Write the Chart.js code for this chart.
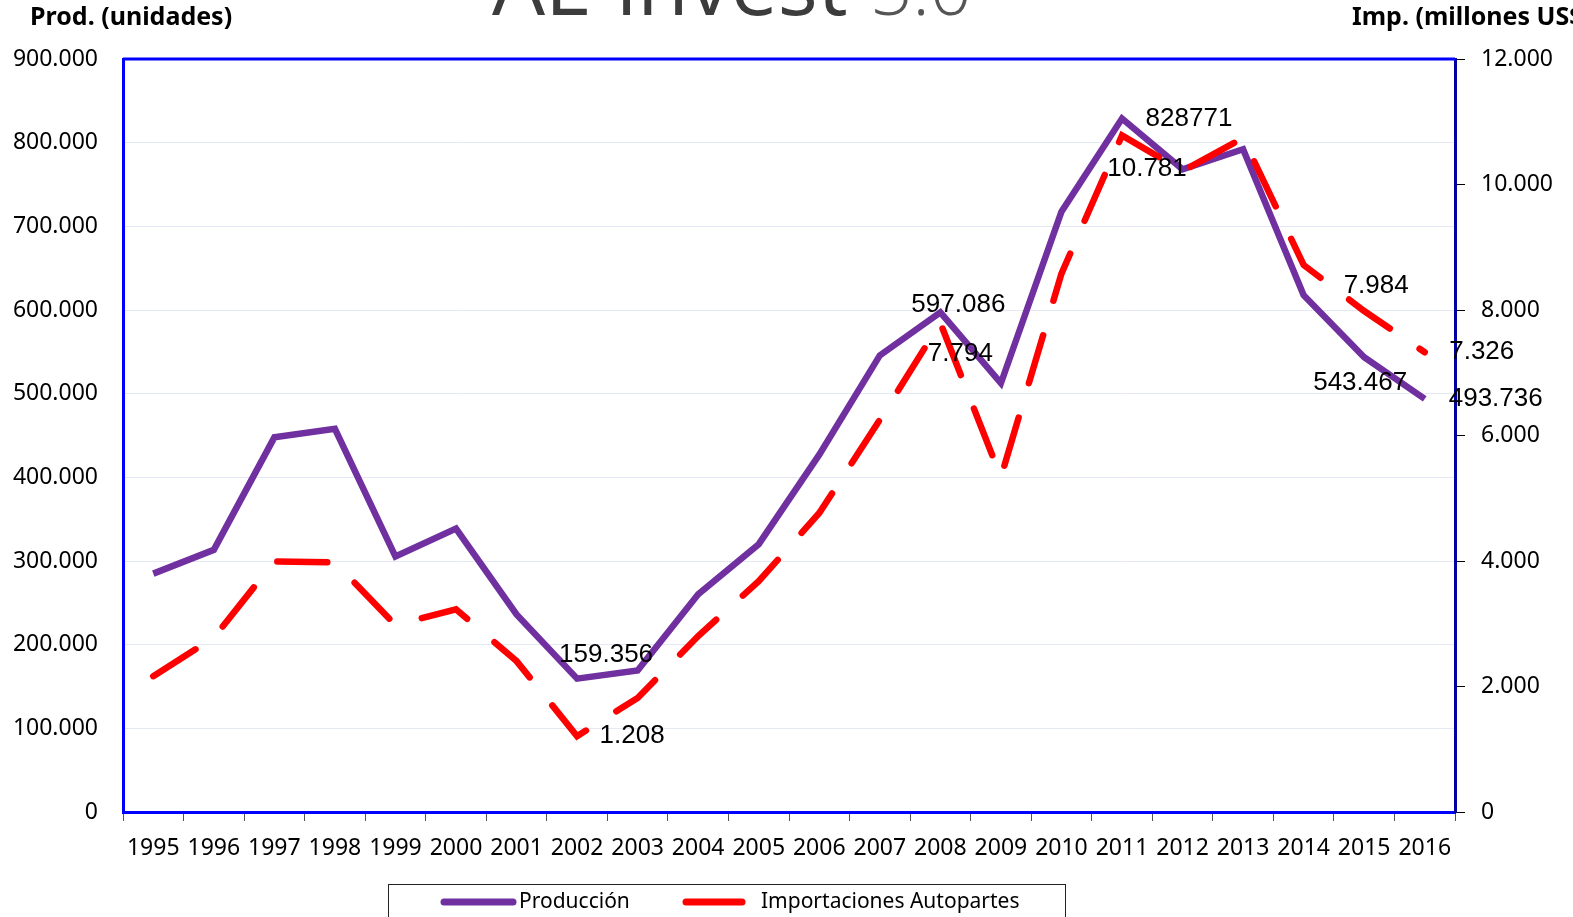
<!DOCTYPE html>
<html>
<head>
<meta charset="utf-8">
<script src="https://cdn.jsdelivr.net/npm/chart.js@4.4.0/dist/chart.umd.min.js"></script>
<style>
  html, body { margin: 0; padding: 0; background: #fff; }
  #wrap { width: 1573px; height: 917px; }
</style>
</head>
<body>
<div id="wrap"><canvas id="lineChart" width="1573" height="917"></canvas></div>
<script>
var years = ['1995', '1996', '1997', '1998', '1999', '2000', '2001', '2002', '2003', '2004', '2005',
    '2006', '2007', '2008', '2009', '2010', '2011', '2012', '2013', '2014', '2015', '2016'];
var produccion = [284900, 313300, 447800, 457900, 305300, 338800, 236200, 159356, 169100, 260200, 320100,
    427100, 545700, 597086, 512500, 717400, 828771, 768200, 792200, 617600, 543467, 493736];
var importaciones = [2165, 2777, 3992, 3980, 2980, 3231, 2405, 1208, 1818, 2804, 3678,
    4765, 6250, 7794, 5334, 8580, 10781, 10216, 10741, 8717, 7984, 7326];

// puntos etiquetados (indice del año + texto que muestra el original)
var prodLabelIdx = [7, 13, 16, 20, 21];
var prodLabelText = ['159.356', '597.086', '828771', '543.467', '493.736'];
var impLabelIdx = [7, 13, 16, 20, 21];
var impLabelText = ['1.208', '7.794', '10.781', '7.984', '7.326'];

var legendNames = ['Producción', 'Importaciones Autopartes'];
var leftTitle = 'Prod. (unidades)';
var rightTitle = 'Imp. (millones US$)';

var tickFont = { family: '"Noto Sans", sans-serif', size: 23 };

var fmt = function (v) {
    return String(v).replace(/\B(?=(\d{3})+(?!\d))/g, '.');
};

// desplazamientos de las etiquetas respecto del punto
var prodOffsets = [[29, -24], [18, -8], [67, 0], [-4, 26], [71, 0]];
var impOffsets = [[55, 0], [20, 31], [25, 33], [12, -25], [57, 0]];

var decorPlugin = {
    id: 'decor',
    afterDatasetsDraw: function (chart) {
        var ctx = chart.ctx;
        var area = chart.chartArea;
        ctx.save();
        // borde superior del area
        ctx.strokeStyle = '#0000FF';
        ctx.lineWidth = 3;
        ctx.beginPath();
        ctx.moveTo(area.left, area.top);
        ctx.lineTo(area.right, area.top);
        ctx.stroke();

        // etiquetas de datos
        ctx.font = '26px "Liberation Sans", Arial, sans-serif';
        ctx.fillStyle = '#000';
        ctx.textAlign = 'center';
        ctx.textBaseline = 'middle';
        var drawLabels = function (dsIndex, idx, texts, offs) {
            var meta = chart.getDatasetMeta(dsIndex);
            for (var i = 0; i < idx.length; i++) {
                var pt = meta.data[idx[i]];
                ctx.fillText(texts[i], pt.x + offs[i][0], pt.y + offs[i][1]);
            }
        };
        drawLabels(0, prodLabelIdx, prodLabelText, prodOffsets);
        drawLabels(1, impLabelIdx, impLabelText, impOffsets);
        ctx.restore();
    },
    afterDraw: function (chart) {
        var ctx = chart.ctx;
        ctx.save();
        // titulos de ejes
        ctx.fillStyle = '#000';
        ctx.font = 'bold 25px "Noto Sans", sans-serif';
        ctx.textBaseline = 'middle';
        ctx.textAlign = 'left';
        ctx.fillText(leftTitle, 30, 18);
        ctx.fillText(rightTitle, 1352, 18);

        // logo cortado arriba
        ctx.textBaseline = 'alphabetic';
        ctx.fillStyle = '#3c3c3c';
        ctx.font = '84px "Open Sans", sans-serif';
        ctx.fillText('AL-invest', 492, 15);
        ctx.fillStyle = '#555';
        ctx.font = '300 74px "Open Sans", sans-serif';
        ctx.fillText('5.0', 870, 15);

        // leyenda
        ctx.strokeStyle = '#222';
        ctx.lineWidth = 1;
        ctx.strokeRect(388.5, 884.5, 677, 60);
        var items = [
            { x: 444, len: 69, tx: 519, color: chart.data.datasets[0].borderColor },
            { x: 686, len: 56, tx: 761, color: chart.data.datasets[1].borderColor }
        ];
        ctx.lineCap = 'round';
        ctx.font = '21px "Noto Sans", sans-serif';
        ctx.textBaseline = 'middle';
        items.forEach(function (it, i) {
            ctx.strokeStyle = it.color;
            ctx.lineWidth = 7;
            ctx.beginPath();
            ctx.moveTo(it.x, 902);
            ctx.lineTo(it.x + it.len, 902);
            ctx.stroke();
            ctx.fillStyle = '#000';
            ctx.fillText(legendNames[i], it.tx, 902);
        });
        ctx.restore();
    }
};

new Chart(document.getElementById('lineChart').getContext('2d'), {
    type: 'line',
    data: {
        labels: years,
        datasets: [{
            label: legendNames[0],
            data: produccion,
            yAxisID: 'y',
            borderColor: '#7030A0',
            borderWidth: 6.5,
            borderJoinStyle: 'miter',
            order: 1
        }, {
            label: legendNames[1],
            data: importaciones,
            yAxisID: 'y1',
            borderColor: '#FF0000',
            borderWidth: 6.5,
            borderDash: [50, 36],
            borderCapStyle: 'round',
            order: 0
        }]
    },
    options: {
        responsive: false,
        animation: false,
        layout: { padding: { top: 59, left: 0, right: 0, bottom: 0 } },
        elements: { point: { radius: 0 }, line: { tension: 0, fill: false } },
        plugins: { legend: { display: false }, tooltip: { enabled: false } },
        scales: {
            x: {
                offset: true,
                grid: { offset: true, drawOnChartArea: false, tickLength: 9, color: '#555', lineWidth: 1 },
                border: { color: '#0000FF', width: 3 },
                ticks: { font: tickFont, color: '#000', padding: 14, maxRotation: 0, autoSkip: false },
                afterFit: function (s) { s.height = 105; }
            },
            y: {
                position: 'left',
                min: 0,
                max: 900000,
                grid: { color: '#e4e8f5', drawTicks: false },
                border: { color: '#0000FF', width: 3 },
                ticks: { stepSize: 100000, font: tickFont, color: '#000', padding: 25, callback: fmt },
                afterFit: function (s) { s.width = 123; }
            },
            y1: {
                position: 'right',
                min: 0,
                max: 12000,
                grid: { drawOnChartArea: false, tickLength: 10, color: '#000' },
                border: { color: '#0000A0', width: 3 },
                ticks: { stepSize: 2000, font: tickFont, color: '#000', padding: 16, callback: fmt },
                afterFit: function (s) { s.width = 118; }
            }
        }
    },
    plugins: [decorPlugin]
});
</script>
</body>
</html>
